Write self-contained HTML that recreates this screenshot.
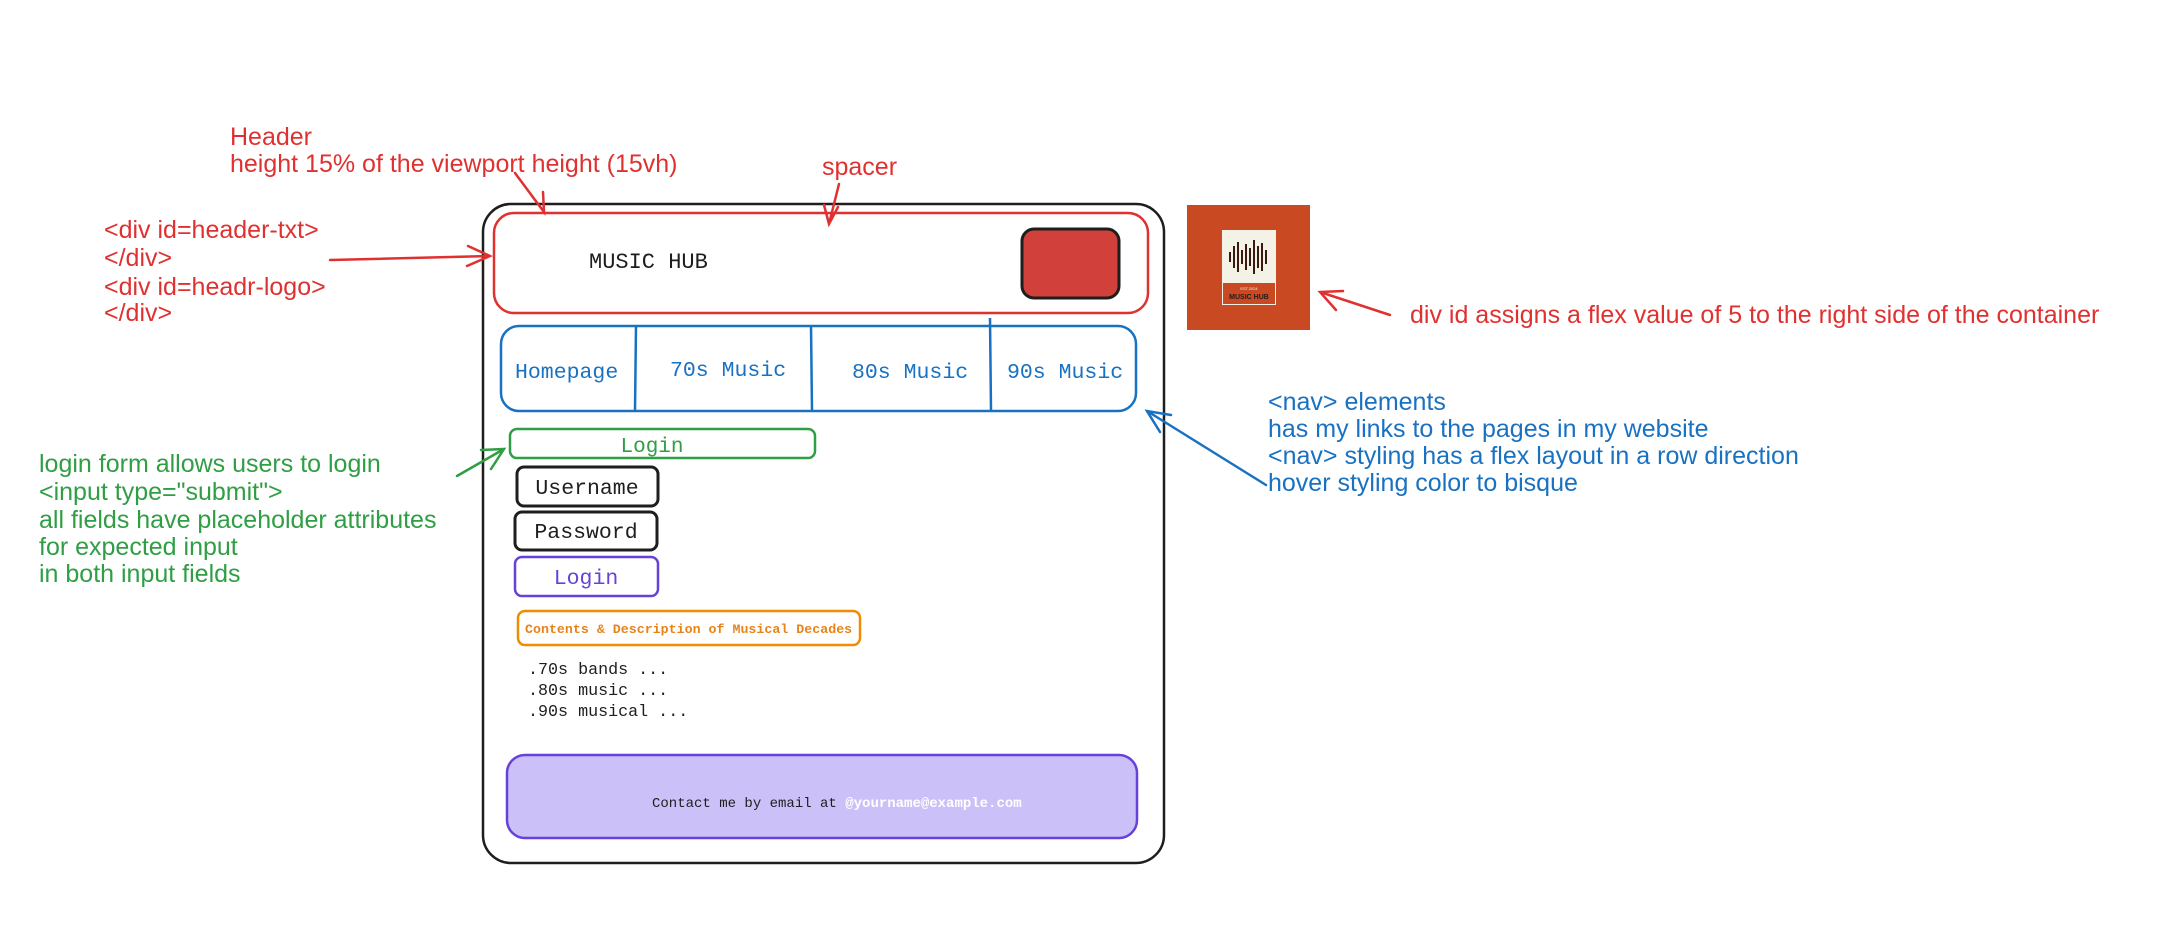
<!DOCTYPE html>
<html><head><meta charset="utf-8"><style>
html,body{margin:0;padding:0;background:#fff;}
svg{display:block;}
.m{font-family:"Liberation Mono","DejaVu Sans Mono",monospace;}
.h{font-family:"Liberation Sans",sans-serif;font-size:25px;}
</style></head><body>
<svg width="2172" height="934" viewBox="0 0 2172 934" xmlns="http://www.w3.org/2000/svg">
<rect width="2172" height="934" fill="#fff"/>
<rect x="483" y="204" width="681" height="659" rx="28" fill="none" stroke="#1e1e1e" stroke-width="2.5"/>
<rect x="494" y="213" width="654" height="100" rx="20" fill="none" stroke="#e03131" stroke-width="2.5"/>
<text x="589" y="268" class="m" font-size="22" fill="#1e1e1e">MUSIC HUB</text>
<rect x="1022" y="229" width="97" height="69" rx="12" fill="#d1403a" stroke="#1e1e1e" stroke-width="3"/>
<rect x="501" y="326" width="635" height="85" rx="18" fill="none" stroke="#1971c2" stroke-width="2.5"/>
<line x1="636" y1="326" x2="635" y2="411" stroke="#1971c2" stroke-width="2.5"/>
<line x1="811" y1="326" x2="812" y2="411" stroke="#1971c2" stroke-width="2.5"/>
<line x1="990" y1="318" x2="991" y2="411" stroke="#1971c2" stroke-width="2.5"/>
<g class="m" font-size="21.5" fill="#1971c2">
<text x="515" y="378">Homepage</text>
<text x="670" y="376">70s Music</text>
<text x="852" y="378">80s Music</text>
<text x="1007" y="378">90s Music</text>
</g>
<rect x="510" y="429" width="305" height="29" rx="7" fill="none" stroke="#2f9e44" stroke-width="2.5"/>
<text x="652" y="452" class="m" font-size="21" fill="#2f9e44" text-anchor="middle">Login</text>
<rect x="517" y="467" width="141" height="39" rx="7" fill="none" stroke="#1e1e1e" stroke-width="3"/>
<text x="587" y="494" class="m" font-size="21.5" fill="#1e1e1e" text-anchor="middle">Username</text>
<rect x="515" y="512" width="142" height="38" rx="7" fill="none" stroke="#1e1e1e" stroke-width="3"/>
<text x="586" y="538" class="m" font-size="21.5" fill="#1e1e1e" text-anchor="middle">Password</text>
<rect x="515" y="557" width="143" height="39" rx="7" fill="none" stroke="#6741d9" stroke-width="2.5"/>
<text x="586" y="584" class="m" font-size="21.5" fill="#6741d9" text-anchor="middle">Login</text>
<rect x="518" y="611" width="342" height="34" rx="7" fill="none" stroke="#f08c00" stroke-width="2.5"/>
<text x="525" y="633" class="m" font-size="13.3" font-weight="bold" fill="#e8831a">Contents &amp; Description of Musical Decades</text>
<g class="m" font-size="16.7" fill="#1e1e1e">
<text x="528" y="674">.70s bands ...</text>
<text x="528" y="695">.80s music ...</text>
<text x="528" y="716">.90s musical ...</text>
</g>
<rect x="507" y="755" width="630" height="83" rx="18" fill="#cbc1f8" stroke="#6741d9" stroke-width="2.5"/>
<text x="652" y="807" class="m" font-size="14" fill="#1e1e1e">Contact me by email at <tspan fill="#fff" font-weight="bold">@yourname@example.com</tspan></text>
<rect x="1187" y="205" width="123" height="125" fill="#c94a22"/>
<rect x="1222" y="230" width="54" height="75" fill="#f4f1e6"/>
<rect x="1223" y="283" width="52" height="21" fill="#c94a22"/>
<g stroke="#3a1a10" stroke-width="2">
<line x1="1230" y1="252" x2="1230" y2="262"/><line x1="1234" y1="246" x2="1234" y2="268"/>
<line x1="1238" y1="242" x2="1238" y2="272"/><line x1="1242" y1="250" x2="1242" y2="264"/>
<line x1="1246" y1="244" x2="1246" y2="270"/><line x1="1250" y1="248" x2="1250" y2="266"/>
<line x1="1254" y1="240" x2="1254" y2="274"/><line x1="1258" y1="246" x2="1258" y2="268"/>
<line x1="1262" y1="243" x2="1262" y2="271"/><line x1="1266" y1="250" x2="1266" y2="264"/>
</g>
<text x="1249" y="290" font-family="Liberation Sans" font-size="4" fill="#f4f1e6" text-anchor="middle">EST.2024</text>
<text x="1249" y="299" font-family="Liberation Sans" font-size="7" font-weight="bold" fill="#1e1e1e" text-anchor="middle">MUSIC HUB</text>
<g class="h" fill="#e03131">
<text x="230" y="145">Header</text>
<text x="230" y="172">height 15% of the viewport height (15vh)</text>
<text x="822" y="175">spacer</text>
<text x="104" y="238">&lt;div id=header-txt&gt;</text>
<text x="104" y="266">&lt;/div&gt;</text>
<text x="104" y="295">&lt;div id=headr-logo&gt;</text>
<text x="104" y="321">&lt;/div&gt;</text>
<text x="1410" y="323">div id assigns a flex value of 5 to the right side of the container</text>
</g>
<g stroke="#e03131" stroke-width="2.5" fill="none" stroke-linecap="round">
<path d="M515 173 L544 212 M532 196 L544 212 L543 192"/>
<path d="M839 184 L829 224 M824 205 L829 224 L838 207"/>
<path d="M330 260 L490 256 M468 246 L490 256 L467 266"/>
<path d="M1390 315 L1320 292 M1336 310 L1320 292 L1343 291"/>
</g>
<g class="h" fill="#1971c2">
<text x="1268" y="410">&lt;nav&gt; elements</text>
<text x="1268" y="437">has my links to the pages in my website</text>
<text x="1268" y="464">&lt;nav&gt; styling has a flex layout in a row direction</text>
<text x="1268" y="491">hover styling color to bisque</text>
</g>
<path d="M1266 485 L1147 411 M1160 432 L1147 411 L1171 415" stroke="#1971c2" stroke-width="2.5" fill="none" stroke-linecap="round"/>
<g class="h" fill="#2f9e44">
<text x="39" y="472">login form allows users to login</text>
<text x="39" y="500">&lt;input type="submit"&gt;</text>
<text x="39" y="528">all fields have placeholder attributes</text>
<text x="39" y="555">for expected input</text>
<text x="39" y="582">in both input fields</text>
</g>
<path d="M457 476 L504 449 M481 450 L504 449 L491 469" stroke="#2f9e44" stroke-width="2.5" fill="none" stroke-linecap="round"/>
</svg>
</body></html>
